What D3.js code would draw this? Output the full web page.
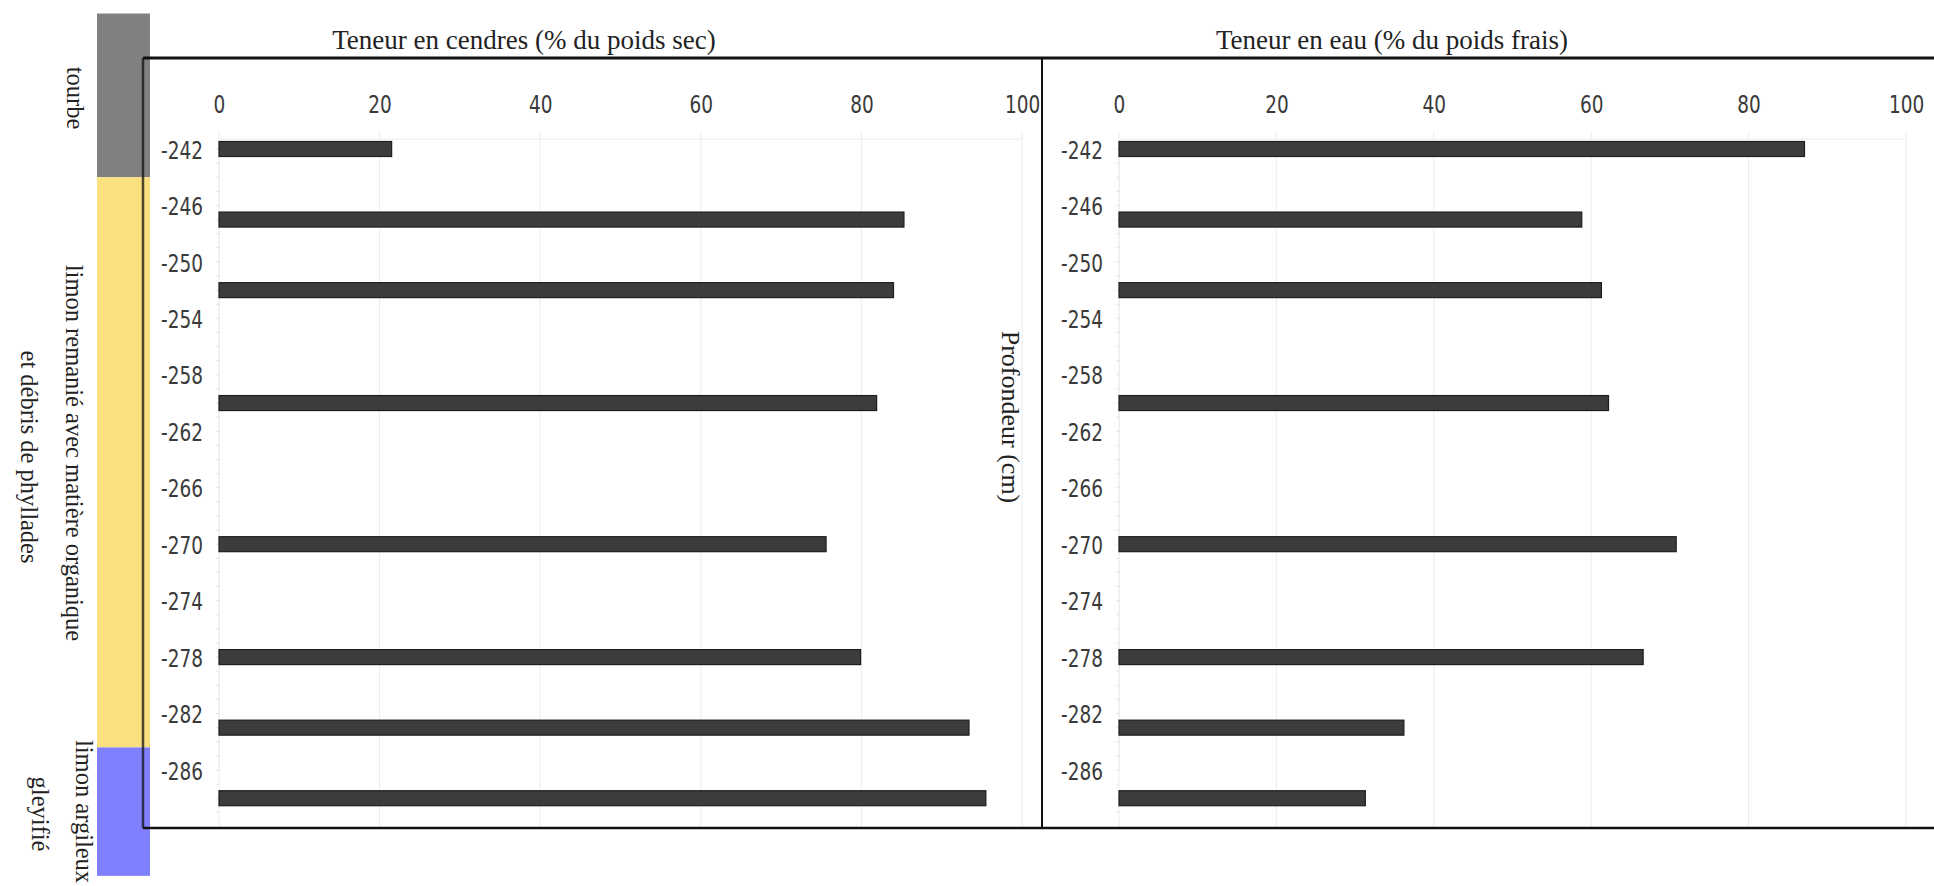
<!DOCTYPE html>
<html><head><meta charset="utf-8">
<script src="https://cdn.jsdelivr.net/npm/d3@7"></script>
<style>
body{margin:0;background:#fff;}
svg{display:block;}
.tick-lbl{font-family:"DejaVu Sans",sans-serif;fill:#3a3a3a;}
.serif{font-family:"Liberation Serif","Times New Roman",serif;fill:#222;}
</style></head>
<body>
<svg id="chart" width="1934" height="886"></svg>
<script>
// ---- data ----
const depths = [-242, -247, -252, -260, -270, -278, -283, -288];
const ashContent = [21.5, 85.3, 84.0, 81.9, 75.6, 79.9, 93.4, 95.5];
const waterContent = [87.1, 58.8, 61.3, 62.2, 70.8, 66.6, 36.2, 31.3];
const xTicks = [0, 20, 40, 60, 80, 100];
const yTicks = [-242, -246, -250, -254, -258, -262, -266, -270, -274, -278, -282, -286];
const panelTitles = ["Teneur en cendres (% du poids sec)", "Teneur en eau (% du poids frais)"];
const yTitle = "Profondeur (cm)";
const layerNames = ["tourbe", "limon remanié avec matière organique|et débris de phyllades", "limon argileux|gleyifié"];
const layerTop = [-232.4, -244.0, -284.4];
const layerBottom = [-244.0, -284.4, -293.5];
const layerColors = ["#808080", "#fbe07f", "#8080ff"];

const svg = d3.select("#chart");
const y = d3.scaleLinear().domain([-242, -286]).range([149, 770]);
const plotTop = y(-241.3), plotBottom = 828;
const SX = 0.77; // horizontal squeeze of the narrow tick font

const panels = [
  {x: d3.scaleLinear().domain([0, 100]).range([219, 1022]), vals: ashContent, title: panelTitles[0], tx: 524},
  {x: d3.scaleLinear().domain([0, 100]).range([1119, 1906]), vals: waterContent, title: panelTitles[1], tx: 1392}
];

// layer strips
const strips = svg.append("g");
layerNames.forEach((n, i) => {
  strips.append("rect").attr("x", 97).attr("width", 53)
    .attr("y", y(layerTop[i])).attr("height", y(layerBottom[i]) - y(layerTop[i]))
    .attr("fill", layerColors[i]);
});
// layer labels (rotated clockwise)
const labelPos = [
  [{x: 73, y: 98, a: "middle"}],
  [{x: 72, y: 453, a: "middle"}, {x: 27, y: 457, a: "middle"}],
  [{x: 82, y: 740, a: "start"}, {x: 38, y: 814, a: "middle"}]
];
layerNames.forEach((n, i) => {
  n.split("|").forEach((line, j) => {
    const p = labelPos[i][j];
    svg.append("text").attr("class", "serif").attr("font-size", 24.5)
      .attr("text-anchor", p.a).attr("dominant-baseline", "middle")
      .attr("transform", `translate(${p.x},${p.y}) rotate(90)`).text(line);
  });
});

function squeeze(sel) {
  sel.each(function() {
    const t = d3.select(this);
    const x0 = +t.attr("x") || 0;
    t.attr("x", x0 / SX).attr("transform", `scale(${SX},1)`);
  });
}

panels.forEach(p => {
  const g = svg.append("g");
  // grid
  g.selectAll(".vg").data(xTicks).join("line")
    .attr("x1", d => p.x(d)).attr("x2", d => p.x(d))
    .attr("y1", plotTop - 8).attr("y2", plotBottom)
    .attr("stroke", "#ececec").attr("stroke-width", 1);
  g.append("line").attr("x1", p.x(0)).attr("x2", p.x(100))
    .attr("y1", plotTop).attr("y2", plotTop).attr("stroke", "#ececec");
  // x axis labels
  const xa = d3.axisTop(p.x).tickValues(xTicks).tickSize(0).tickPadding(0).tickFormat(d => String(d));
  const xg = g.append("g").attr("transform", `translate(0,113)`).call(xa);
  xg.select(".domain").remove();
  xg.selectAll("text").attr("class", "tick-lbl").attr("font-size", 24).attr("dy", 0).call(squeeze);
  // y axis
  const ya = d3.axisLeft(y).tickValues(yTicks).tickSize(0).tickPadding(16).tickFormat(d => String(d));
  const yg = g.append("g").attr("transform", `translate(${p.x(0)},0)`).call(ya);
  yg.select(".domain").attr("stroke", "#eee");
  yg.selectAll("text").attr("class", "tick-lbl").attr("font-size", 24).attr("dy", "0.38em").call(squeeze);
  // minor ticks
  g.selectAll(".mt").data(d3.range(-242, -290, -1)).join("line")
    .attr("x1", p.x(0) - 3).attr("x2", p.x(0))
    .attr("y1", d => y(d)).attr("y2", d => y(d))
    .attr("stroke", "#e4e4e4");
  // bars
  g.selectAll(".bar").data(depths.map((d, i) => ({d, v: p.vals[i]}))).join("rect")
    .attr("x", p.x(0)).attr("width", d => p.x(d.v) - p.x(0))
    .attr("y", d => y(d.d) - 7.5).attr("height", 15)
    .attr("fill", "#3c3c3c").attr("stroke", "#1e1e1e").attr("stroke-width", 1.2);
  // title
  svg.append("text").attr("class", "serif").attr("font-size", 27)
    .attr("x", p.tx).attr("y", 49).attr("text-anchor", "middle").text(p.title);
});

// y title
svg.append("text").attr("class", "serif").attr("font-size", 26)
  .attr("text-anchor", "middle").attr("dominant-baseline", "middle")
  .attr("transform", "translate(1008,417) rotate(90)").text(yTitle);

// frame
const fr = svg.append("g").attr("stroke", "#111").attr("fill", "none");
fr.append("line").attr("x1", 143).attr("x2", 1934).attr("y1", 58).attr("y2", 58).attr("stroke-width", 3);
fr.append("line").attr("x1", 143).attr("x2", 143).attr("y1", 58).attr("y2", 828).attr("stroke-width", 2.5).attr("stroke-opacity", 0.75);
fr.append("line").attr("x1", 143).attr("x2", 1934).attr("y1", 828).attr("y2", 828).attr("stroke-width", 2.5);
fr.append("line").attr("x1", 1042).attr("x2", 1042).attr("y1", 58).attr("y2", 828).attr("stroke-width", 2);
</script>
</body></html>
